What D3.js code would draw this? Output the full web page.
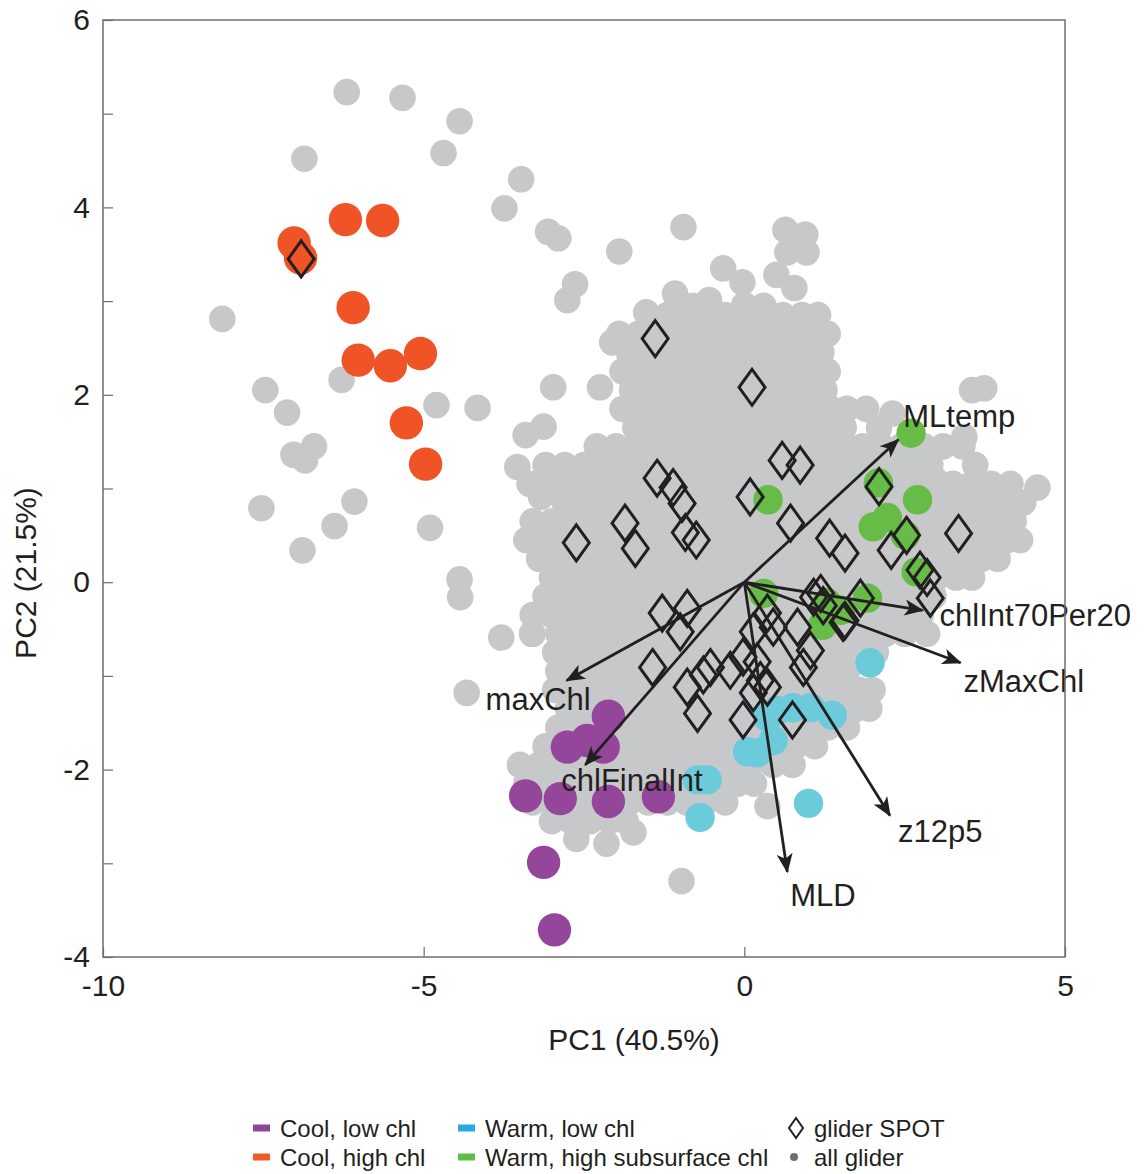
<!DOCTYPE html>
<html lang="en">
<head>
<meta charset="UTF-8">
<title>PCA glider</title>
<script src="https://cdnjs.cloudflare.com/ajax/libs/d3/7.8.5/d3.min.js"></script>
<style>
  body { margin: 0; background: #fff; }
  svg text { font-family: "Liberation Sans", Arial, Helvetica, sans-serif; fill: #231f20; }
  .frame { fill: none; stroke: #6d6e71; stroke-width: 1.5; }
  .axis .domain { display: none; }
  .axis .tick line { stroke: #6d6e71; stroke-width: 1.2; }
  .axis .tick text { font-size: 30px; fill: #231f20; }
  .title { font-size: 30px; }
  .loading { stroke: #231f20; stroke-width: 2.8; }
  .loadLabel { font-size: 31px; }
  .spot { fill: none; stroke: #231f20; stroke-width: 3; }
  .legend text { font-size: 24px; }
</style>
</head>
<body>
<div id="chart"></div>
<script>

// all glider profiles, outlying points
var allGliderOut = [
  [-6.2, 5.23], [-5.33, 5.17], [-4.44, 4.92], [-4.69, 4.58], [-6.86, 4.52],
  [-3.48, 4.3], [-3.74, 3.99], [-3.06, 3.74], [-2.9, 3.67], [-1.95, 3.53],
  [-0.95, 3.79], [-2.64, 3.18], [-2.76, 3.01], [-8.14, 2.81], [-6.28, 2.16],
  [-7.47, 2.05], [-7.13, 1.81], [-4.8, 1.89], [-4.16, 1.86], [-6.71, 1.45],
  [-7.03, 1.36], [-6.85, 1.3], [-3.41, 1.57], [-3.54, 1.23], [-7.53, 0.79],
  [-6.08, 0.86], [-6.39, 0.6], [-6.89, 0.34], [-4.9, 0.58], [-4.44, 0.03],
  [-4.43, -0.16], [-4.33, -1.18], [-3.79, -0.59], [-3.31, -0.55], [-3.13, 1.66],
  [-2.98, 2.08], [-2.25, 2.08], [-3.17, 0.91], [-2.06, 2.56], [-1.72, 2.39],
  [-1.53, 2.88], [-1.08, 3.08], [-0.55, 3.01], [-0.33, 3.35], [-0.03, 3.2],
  [0.5, 3.28], [0.64, 3.76], [0.95, 3.71], [0.97, 3.52], [0.67, 3.52],
  [0.78, 3.14], [0.0, 2.96], [2.31, 1.8], [3.74, 2.07], [4.57, 1.01],
  [3.43, 1.55], [2.98, 1.09], [-0.98, -3.19], [0.36, -2.39],
  [-2.62, -2.74], [-2.15, -2.79], [-1.73, -2.67]
];

// all glider profiles, dense cloud: [PC2, [PC1 values]]
var allGliderRows = [
  [2.95, [-0.8, 0.3]],
  [2.85, [-1.5, -1.2, -0.9, -0.6, -0.3, 0.05, 0.35, 0.6, 0.9, 1.15]],
  [2.65, [-1.95, -1.65, -1.35, -1.05, -0.75, -0.45, -0.15, 0.15, 0.45, 0.75, 1.05, 1.3]],
  [2.45, [-1.8, -1.5, -1.2, -0.9, -0.6, -0.3, 0.0, 0.3, 0.6, 0.9, 1.2]],
  [2.25, [-1.9, -1.6, -1.3, -1.0, -0.7, -0.4, -0.1, 0.2, 0.5, 0.8, 1.1, 1.3]],
  [2.05, [-1.75, -1.45, -1.15, -0.85, -0.55, -0.25, 0.05, 0.35, 0.65, 0.95, 1.25, 3.55]],
  [1.85, [-1.9, -1.6, -1.3, -1.0, -0.7, -0.4, -0.1, 0.2, 0.5, 0.8, 1.1, 1.35, 1.6, 1.9]],
  [1.65, [-1.7, -1.4, -1.1, -0.8, -0.5, -0.2, 0.1, 0.4, 0.7, 1.0, 1.25, 1.55, 2.1]],
  [1.45, [-2.3, -2.0, -1.7, -1.4, -1.1, -0.8, -0.5, -0.2, 0.1, 0.4, 0.7, 1.0, 1.3, 1.6, 1.85, 2.15, 2.45, 2.8, 3.1, 3.4]],
  [1.25, [-3.1, -2.8, -2.5, -2.2, -1.9, -1.6, -1.3, -1.0, -0.7, -0.4, -0.1, 0.2, 0.5, 0.8, 1.1, 1.4, 1.7, 2.0, 2.3, 2.6, 2.9, 3.6]],
  [1.05, [-3.35, -3.05, -2.75, -2.45, -2.15, -1.85, -1.55, -1.25, -0.95, -0.65, -0.35, -0.05, 0.25, 0.55, 0.85, 1.15, 1.45, 1.75, 2.05, 2.35, 2.65, 2.95, 3.25, 3.55, 3.85, 4.15]],
  [0.85, [-2.8, -2.5, -2.2, -1.9, -1.6, -1.3, -1.0, -0.7, -0.4, -0.1, 0.2, 0.5, 0.8, 1.1, 1.4, 1.7, 2.0, 2.3, 2.6, 2.9, 3.2, 3.5, 3.8, 4.1, 4.35]],
  [0.65, [-3.3, -3.0, -2.7, -2.4, -2.1, -1.8, -1.5, -1.2, -0.9, -0.6, -0.3, 0.0, 0.3, 0.6, 0.9, 1.2, 1.5, 1.8, 2.1, 2.4, 2.7, 3.0, 3.3, 3.6, 3.9, 4.2]],
  [0.45, [-3.4, -3.1, -2.8, -2.5, -2.2, -1.9, -1.6, -1.3, -1.0, -0.7, -0.4, -0.1, 0.2, 0.5, 0.8, 1.1, 1.4, 1.7, 2.0, 2.3, 2.6, 2.9, 3.2, 3.5, 3.8, 4.1, 4.3]],
  [0.25, [-3.2, -2.9, -2.6, -2.3, -2.0, -1.7, -1.4, -1.1, -0.8, -0.5, -0.2, 0.1, 0.4, 0.7, 1.0, 1.3, 1.6, 1.9, 2.2, 2.5, 2.8, 3.1, 3.4, 3.7, 3.95]],
  [0.05, [-3.0, -2.7, -2.4, -2.1, -1.8, -1.5, -1.2, -0.9, -0.6, -0.3, 0.0, 0.3, 0.6, 0.9, 1.2, 1.5, 1.8, 2.1, 2.4, 2.7, 3.0, 3.3, 3.55]],
  [-0.15, [-3.1, -2.8, -2.5, -2.2, -1.9, -1.6, -1.3, -1.0, -0.7, -0.4, -0.1, 0.2, 0.5, 0.8, 1.1, 1.4, 1.7, 2.0, 2.3, 2.6, 2.95]],
  [-0.35, [-3.3, -3.0, -2.7, -2.4, -2.1, -1.8, -1.5, -1.2, -0.9, -0.6, -0.3, 0.0, 0.3, 0.6, 0.9, 1.2, 1.5, 1.8, 2.1, 2.4, 2.75]],
  [-0.55, [-3.3, -2.9, -2.6, -2.3, -2.0, -1.7, -1.4, -1.1, -0.8, -0.5, -0.2, 0.1, 0.4, 0.7, 1.0, 1.3, 1.6, 1.9, 2.2, 2.5, 2.85]],
  [-0.75, [-2.95, -2.7, -2.4, -2.1, -1.8, -1.5, -1.2, -0.9, -0.6, -0.3, 0.0, 0.3, 0.6, 0.9, 1.2, 1.5, 1.8, 2.05]],
  [-0.95, [-2.9, -2.6, -2.3, -2.0, -1.7, -1.4, -1.1, -0.8, -0.5, -0.2, 0.1, 0.4, 0.7, 1.0, 1.3, 1.6]],
  [-1.15, [-2.95, -2.7, -2.4, -2.1, -1.8, -1.5, -1.2, -0.9, -0.6, -0.3, 0.0, 0.3, 0.6, 0.9, 1.2, 1.5, 1.8, 2.0]],
  [-1.35, [-2.75, -2.45, -2.15, -1.85, -1.55, -1.25, -0.95, -0.65, -0.35, -0.05, 0.25, 0.55, 0.85, 1.15, 1.45, 1.75, 1.95]],
  [-1.55, [-2.9, -2.6, -2.3, -2.0, -1.7, -1.4, -1.1, -0.8, -0.5, -0.2, 0.1, 0.4, 0.7, 1.0, 1.3, 1.6]],
  [-1.75, [-3.1, -2.8, -2.5, -2.2, -1.9, -1.6, -1.3, -1.0, -0.7, -0.4, -0.1, 0.2, 0.5, 0.8, 1.1]],
  [-1.95, [-3.5, -3.2, -2.9, -2.6, -2.3, -2.0, -1.7, -1.4, -1.1, -0.8, -0.5, -0.2, 0.1, 0.45, 0.75]],
  [-2.15, [-3.4, -3.1, -2.8, -2.5, -2.2, -1.9, -1.6, -1.3, -1.0, -0.7, -0.4, -0.1, 0.15]],
  [-2.35, [-3.3, -3.0, -2.7, -2.4, -2.1, -1.8, -1.5, -1.2, -0.9, -0.6, -0.3]],
  [-2.55, [-3.0, -2.7, -2.4, -2.1, -1.85]]
];

// cluster groups
var coolLowChl = [
  [-2.12, -1.43], [-2.76, -1.76], [-2.45, -1.69], [-2.2, -1.76], [-3.41, -2.28],
  [-2.87, -2.31], [-2.12, -2.34], [-1.34, -2.29], [-3.13, -2.99], [-2.96, -3.71]
];
var coolHighChl = [
  [-7.02, 3.62], [-6.92, 3.46], [-6.22, 3.87], [-5.64, 3.86], [-6.1, 2.93],
  [-6.02, 2.37], [-5.52, 2.31], [-5.05, 2.44], [-5.27, 1.7], [-4.97, 1.26]
];
var warmLowChl = [
  [1.96, -0.86], [1.37, -1.42], [1.03, -1.34], [0.76, -1.34], [0.51, -1.37],
  [0.36, -1.44], [0.45, -1.69], [0.2, -1.82], [0.05, -1.81], [-0.73, -2.11],
  [-0.58, -2.11], [-0.69, -2.51], [1.0, -2.36]
];
var warmHighSubChl = [
  [2.6, 1.59], [0.37, 0.88], [2.09, 1.06], [2.7, 0.88], [2.01, 0.59],
  [2.23, 0.69], [2.51, 0.5], [2.68, 0.11], [0.3, -0.12], [1.29, -0.22],
  [1.22, -0.46], [1.92, -0.17], [1.5, -0.3], [1.29, -0.33]
];

// glider profiles matched to SPOT
var gliderSpot = [
  [-6.91, 3.45], [-1.39, 2.6], [0.12, 2.08], [0.59, 1.3], [0.87, 1.25],
  [0.09, 0.91], [-1.36, 1.11], [-1.11, 1.01], [-0.97, 0.84], [-1.86, 0.63],
  [-2.62, 0.42], [-1.7, 0.36], [-0.92, 0.53], [-0.75, 0.45], [0.72, 0.63],
  [2.1, 1.02], [2.53, 0.5], [3.34, 0.52], [1.33, 0.47], [1.57, 0.31],
  [2.29, 0.34], [2.74, 0.13], [2.85, 0.05], [2.9, -0.17], [1.81, -0.17],
  [1.57, -0.41], [1.19, -0.12], [-1.28, -0.33], [-0.89, -0.28], [-1.0, -0.53],
  [-1.43, -0.91], [-0.89, -1.12], [-0.73, -1.4], [-0.53, -0.91], [-0.64, -0.99],
  [-0.22, -0.94], [-0.02, -0.8], [0.14, -0.53], [0.36, -0.33], [0.45, -0.48],
  [0.2, -0.85], [0.25, -1.05], [0.36, -1.12], [0.14, -1.18], [-0.02, -1.47],
  [0.75, -1.47], [0.92, -0.91], [1.03, -0.73], [0.83, -0.48], [1.08, -0.16],
  [1.23, -0.25], [1.54, -0.43]
];

// variable loadings (arrow tips)
var loadNames = ['MLtemp', 'chlInt70Per20', 'zMaxChl', 'z12p5', 'MLD', 'maxChl', 'chlFinalInt'];
var loadPC1 = [2.40, 2.78, 3.37, 2.27, 0.67, -2.77, -2.48];
var loadPC2 = [1.52, -0.30, -0.86, -2.49, -3.09, -1.05, -1.95];

var xTicks = [-10, -5, 0, 5];
var yTicks = [-4, -3, -2, -1, 0, 1, 2, 3, 4, 5, 6];

var width = 1146,
    height = 1174,
    mLeft = 103, mRight = 1065, mTop = 20, mBottom = 957;

var svg = d3.select('#chart').append('svg')
    .attr('width', width)
    .attr('height', height);

var x = d3.scaleLinear().domain([-10, 5]).range([mLeft, mRight]);
var y = d3.scaleLinear().domain([-4, 6]).range([mBottom, mTop]);

var allGlider = allGliderOut.slice();
allGliderRows.forEach(function (r) {
  r[1].forEach(function (v) { allGlider.push([v, r[0]]); });
});

function dots(data, color, r) {
  svg.append('g').selectAll('circle')
    .data(data)
    .enter()
    .append('circle')
    .attr('cx', function (d) { return x(d[0]); })
    .attr('cy', function (d) { return y(d[1]); })
    .attr('r', r)
    .attr('fill', color);
}

dots(allGlider, '#c7c8ca', 13.3);
dots(coolHighChl, '#ef5326', 16.7);
dots(coolLowChl, '#94479a', 16.7);
dots(warmLowChl, '#6ccbdb', 14.7);
dots(warmHighSubChl, '#66bc46', 14.7);

// glider SPOT diamonds
svg.append('g').selectAll('path')
  .data(gliderSpot)
  .enter()
  .append('path')
  .attr('class', 'spot')
  .attr('transform', function (d) { return 'translate(' + x(d[0]) + ',' + y(d[1]) + ')'; })
  .attr('d', 'M0,-18L13,0L0,18L-13,0Z');

// loading arrows
svg.append('defs').append('marker')
  .attr('id', 'head')
  .attr('viewBox', '-22 -11 24 22')
  .attr('refX', 0)
  .attr('refY', 0)
  .attr('markerUnits', 'userSpaceOnUse')
  .attr('markerWidth', 24)
  .attr('markerHeight', 22)
  .attr('orient', 'auto')
  .append('path')
  .attr('d', 'M1.5,0L-18,-8L-13,0L-18,8Z')
  .attr('fill', '#231f20');

var loads = loadNames.map(function (n, i) { return { name: n, pc1: loadPC1[i], pc2: loadPC2[i] }; });

svg.append('g').selectAll('line')
  .data(loads)
  .enter()
  .append('line')
  .attr('class', 'loading')
  .attr('x1', x(0))
  .attr('y1', y(0))
  .attr('x2', function (d) { return x(d.pc1); })
  .attr('y2', function (d) { return y(d.pc2); })
  .attr('marker-end', 'url(#head)');

// label offsets from arrow tip
var labelOff = {
  MLtemp: [5, -13, 'start'],
  chlInt70Per20: [17, 16, 'start'],
  zMaxChl: [3, 29, 'start'],
  z12p5: [8, 26, 'start'],
  MLD: [3, 34, 'start'],
  maxChl: [24, 29, 'end'],
  chlFinalInt: [-24, 26, 'start']
};

svg.append('g').selectAll('text')
  .data(loads)
  .enter()
  .append('text')
  .attr('class', 'loadLabel')
  .attr('x', function (d) { return x(d.pc1) + labelOff[d.name][0]; })
  .attr('y', function (d) { return y(d.pc2) + labelOff[d.name][1]; })
  .attr('text-anchor', function (d) { return labelOff[d.name][2]; })
  .text(function (d) { return d.name; });

// axes
svg.append('g')
  .attr('class', 'axis')
  .attr('transform', 'translate(' + mLeft + ',0)')
  .call(d3.axisLeft(y).tickValues(yTicks).tickSize(-10).tickPadding(13)
    .tickFormat(function (d) { return d % 2 === 0 ? String(d) : ''; }));

svg.append('g')
  .attr('class', 'axis')
  .attr('transform', 'translate(0,' + mBottom + ')')
  .call(d3.axisBottom(x).tickValues(xTicks).tickSize(-10).tickPadding(18)
    .tickFormat(function (d) { return String(d); }));

svg.append('rect')
  .attr('class', 'frame')
  .attr('x', mLeft)
  .attr('y', mTop)
  .attr('width', mRight - mLeft)
  .attr('height', mBottom - mTop);

svg.append('text')
  .attr('class', 'title')
  .attr('x', 634)
  .attr('y', 1050)
  .attr('text-anchor', 'middle')
  .text('PC1 (40.5%)');

svg.append('text')
  .attr('class', 'title')
  .attr('transform', 'translate(36,573) rotate(-90)')
  .attr('text-anchor', 'middle')
  .text('PC2 (21.5%)');

// legend
var legendItems = [
  { label: 'Cool, low chl', color: '#8f479b', col: 0, row: 0 },
  { label: 'Cool, high chl', color: '#f05a28', col: 0, row: 1 },
  { label: 'Warm, low chl', color: '#27aae1', col: 1, row: 0 },
  { label: 'Warm, high subsurface chl', color: '#62bb46', col: 1, row: 1 }
];
var colX = [253, 458, 787];
var rowY = [1128, 1157];

var lg = svg.append('g').attr('class', 'legend');

lg.selectAll('rect')
  .data(legendItems)
  .enter()
  .append('rect')
  .attr('x', function (d) { return colX[d.col]; })
  .attr('y', function (d) { return rowY[d.row] - 3.5; })
  .attr('width', 17)
  .attr('height', 7)
  .attr('fill', function (d) { return d.color; });

lg.selectAll('text.item')
  .data(legendItems)
  .enter()
  .append('text')
  .attr('class', 'item')
  .attr('x', function (d) { return colX[d.col] + 27; })
  .attr('y', function (d) { return rowY[d.row] + 8.5; })
  .text(function (d) { return d.label; });

lg.append('path')
  .attr('transform', 'translate(796,' + rowY[0] + ')')
  .attr('d', 'M0,-10L7,0L0,10L-7,0Z')
  .attr('fill', 'none')
  .attr('stroke', '#231f20')
  .attr('stroke-width', 2);

lg.append('circle')
  .attr('cx', 794)
  .attr('cy', rowY[1])
  .attr('r', 4)
  .attr('fill', '#6d6e71');

lg.append('text').attr('x', 814).attr('y', rowY[0] + 8.5).text('glider SPOT');
lg.append('text').attr('x', 814).attr('y', rowY[1] + 8.5).text('all glider');

</script>
</body>
</html>
